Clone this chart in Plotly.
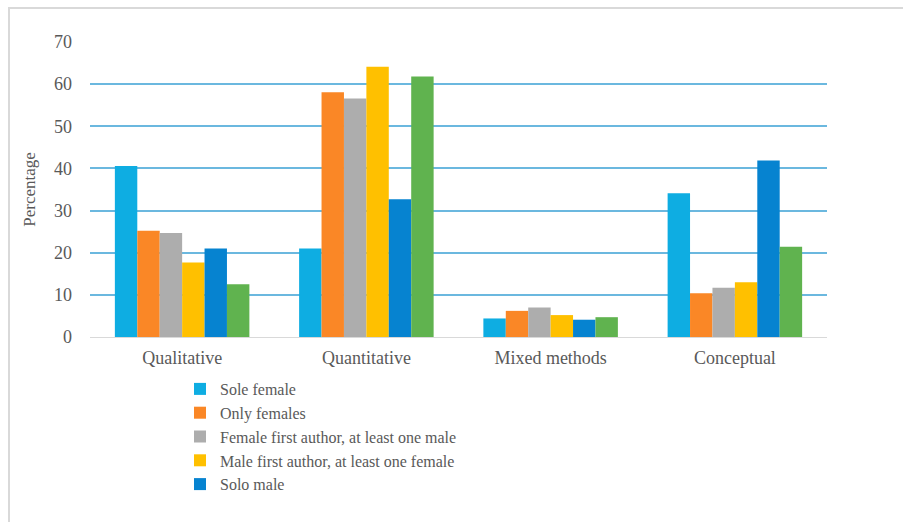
import plotly.graph_objects as go

categories = ["Qualitative", "Quantitative", "Mixed methods", "Conceptual"]
series_names = [
    "Sole female",
    "Only females",
    "Female first author, at least one male",
    "Male first author, at least one female",
    "Solo male",
    "Solo male group",
]
sole_female = [40.6, 21.0, 4.4, 34.1]
only_females = [25.2, 58.1, 6.2, 10.4]
female_first = [24.7, 56.6, 7.0, 11.7]
male_first = [17.7, 64.1, 5.2, 13.0]
solo_male = [21.0, 32.7, 4.1, 41.9]
only_males = [12.5, 61.8, 4.7, 21.4]
y_ticks = [0, 10, 20, 30, 40, 50, 60, 70]

colors = ["#0EADE2", "#FA8726", "#ADADAD", "#FFC000", "#0683D0", "#60B34F"]
values = [sole_female, only_females, female_first, male_first, solo_male, only_males]
show = [True, True, True, True, True, False]

FONT = "Liberation Serif"
TXT = "#595959"

fig = go.Figure()
for name, vals, c, s in zip(series_names, values, colors, show):
    fig.add_trace(go.Bar(x=categories, y=vals, name=name, marker_color=c,
                         marker_line_width=0, showlegend=s))

W, H = 903, 522
L, R, T, B = 90, 76, 42, 185
pw, ph = W - L - R, H - T - B

def px_x(x):
    return (x - L) / pw

def px_y(y):
    return (H - B - y) / ph

fig.update_layout(
    width=W, height=H,
    margin=dict(l=L, r=R, t=T, b=B),
    paper_bgcolor="white", plot_bgcolor="white",
    barmode="group", bargap=0.27, bargroupgap=0,
    font=dict(family=FONT, size=17, color=TXT),
    showlegend=True,
    legend=dict(x=px_x(180), y=px_y(372), xanchor="left", yanchor="top",
                font=dict(family=FONT, size=16, color=TXT),
                tracegroupgap=0, itemwidth=30, bgcolor="rgba(0,0,0,0)"),
    xaxis=dict(showgrid=False, showline=True, linecolor="#D9D9D9", linewidth=1,
               ticks="", ticklabelstandoff=4,
               tickfont=dict(family=FONT, size=18, color=TXT)),
    yaxis=dict(range=[0, 70], tickvals=y_ticks, showgrid=True,
               gridcolor="#6BB8DF", gridwidth=1.5, zeroline=False,
               showline=False, ticks="", ticklabelstandoff=17,
               tickfont=dict(family=FONT, size=18, color=TXT),
               title=dict(text="Percentage", standoff=14,
                          font=dict(family=FONT, size=17, color=TXT))),
    shapes=[dict(type="rect", xref="paper", yref="paper",
                 x0=px_x(9), x1=px_x(W + 20), y0=px_y(H + 20), y1=px_y(8),
                 line=dict(color="#D9D9D9", width=2), fillcolor="rgba(0,0,0,0)",
                 layer="below")],
)

fig.write_html("out.html")
